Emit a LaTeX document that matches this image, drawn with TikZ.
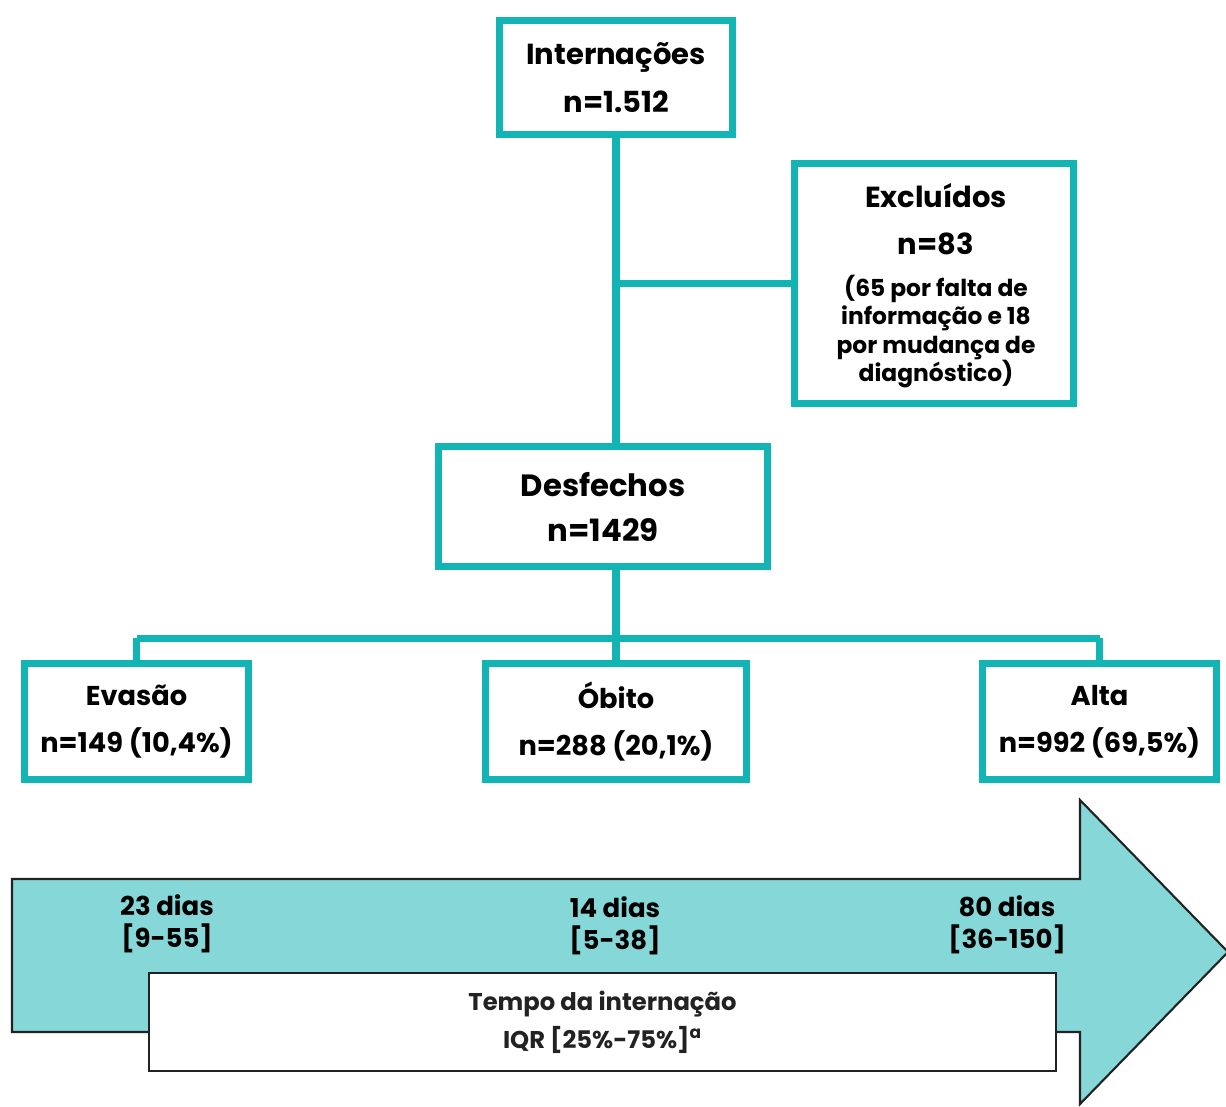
\documentclass[tikz,border=0pt]{standalone}
\usepackage{fontspec}
\setmainfont{Poppins}
\definecolor{flowteal}{HTML}{12B4B4}
\definecolor{arrowteal}{HTML}{86D8D8}
\definecolor{inkgray}{HTML}{222222}
\usetikzlibrary{positioning, calc}
\tikzset{
  flowbox/.style={draw=flowteal, line width=4pt, fill=white, align=center,
                  inner sep=0pt, font=\bfseries\fontsize{16.5}{27}\selectfont},
  flowline/.style={draw=flowteal, line width=4pt},
  daylabel/.style={align=center, font=\bfseries\fontsize{14.8}{18}\selectfont},
}

\begin{document}
\begin{tikzpicture}[x=0.02cm, y=-0.02cm]
        \useasboundingbox (0,0) rectangle (1226,1106);

        % ---- top of the flow ----
        \node[flowbox, minimum width=4.66cm, minimum height=2.28cm]
              (intern) at (616,77.5) {Internações\\n=1.512};
        \node[flowbox, minimum width=5.58cm, minimum height=4.8cm]
              (excl) at (934,283.5) {};
        \node[align=center, font=\bfseries\fontsize{16.5}{27}\selectfont]
              (exclhead) at (936,219) {Excluídos\\n=83};
        \node[align=center, font=\bfseries\fontsize{13.3}{16}\selectfont]
              (excltext) at (936,331.5)
              {(65 por falta de\\informação e 18\\por mudança de\\diagnóstico)};
        \node[flowbox, minimum width=6.58cm, minimum height=2.4cm,
              font=\bfseries\fontsize{17.5}{25.6}\selectfont]
              (desf) at (603,506.5) {Desfechos\\n=1429};

        % ---- outcomes ----
        \node[flowbox, minimum width=4.48cm, minimum height=2.32cm,
              font=\bfseries\fontsize{15.5}{27}\selectfont]
              (evasao) at (136.5,721.5) {Evasão\\n=149 (10,4\%)};
        \node[flowbox, minimum width=5.22cm, minimum height=2.32cm,
              font=\bfseries\fontsize{15.5}{27}\selectfont]
              (obito) at (616,721.5) {Óbito\\n=288 (20,1\%)};
        \node[flowbox, minimum width=4.68cm, minimum height=2.32cm,
              font=\bfseries\fontsize{15.5}{27}\selectfont]
              (alta) at (1099.5,721.5) {Alta\\n=992 (69,5\%)};

        % ---- connectors ----
        \draw[flowline] (intern.south) -- (intern.south |- desf.north);
        \draw[flowline] (intern.south |- excl.west) -- (excl.west);
        \coordinate (bus) at (616,638);
        \draw[flowline] (desf.south -| intern.south) -- (bus);
        \draw[flowline] (evasao.north |- bus) -- (alta.north |- bus);
        \draw[flowline] (evasao.north |- bus) -- (evasao.north);
        \draw[flowline] (bus) -- (obito.north);
        \draw[flowline] (alta.north |- bus) -- (alta.north);

        % ---- time arrow ----
        \filldraw[fill=arrowteal, draw=inkgray, line width=1.2pt]
              (12,879) -- (1080,879) -- (1080,800) -- (1228,952)
              -- (1080,1104) -- (1080,1032) -- (12,1032) -- cycle;
        \node[daylabel] (daysev) at (167,924) {23 dias\\{[9-55]}};
        \node[daylabel] (daysob) at (615,925.5) {14 dias\\{[5-38]}};
        \node[daylabel] (daysal) at (1007,925) {80 dias\\{[36-150]}};
        \node[draw=inkgray, fill=white, line width=1.2pt, align=center,
              minimum width=18.14cm, minimum height=1.96cm, inner sep=0pt,
              font=\bfseries\fontsize{13.8}{21.6}\selectfont, text=inkgray]
              (tempo) at (602.5,1022)
              {Tempo da internação\\IQR [25\%-75\%]\textsuperscript{a}};
\end{tikzpicture}
\end{document}
